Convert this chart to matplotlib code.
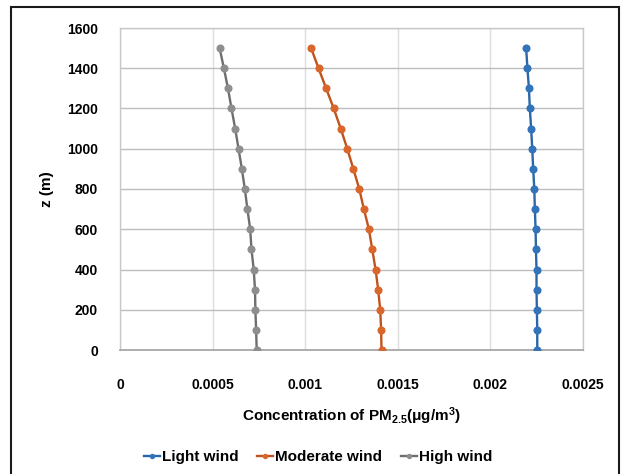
import matplotlib
matplotlib.use("Agg")
import matplotlib.pyplot as plt
from matplotlib.patches import Rectangle

plt.rcParams['font.family'] = ['Liberation Sans', 'DejaVu Sans']
plt.rcParams['font.weight'] = 'bold'
plt.rcParams['mathtext.fontset'] = 'custom'
plt.rcParams['mathtext.rm'] = 'Liberation Sans:bold'
plt.rcParams['mathtext.bf'] = 'Liberation Sans:bold'
plt.rcParams['mathtext.it'] = 'Liberation Sans:bold'
plt.rcParams['mathtext.default'] = 'bf'

# === data ===
z = [0, 100, 200, 300, 400, 500, 600, 700, 800, 900, 1000, 1100, 1200, 1300, 1400, 1500]
light = [0.002253, 0.002253, 0.002251, 0.002249, 0.002249, 0.002246, 0.002244, 0.002240,
         0.002237, 0.002231, 0.002226, 0.002220, 0.002213, 0.002208, 0.002200, 0.002193]
moderate = [0.001412, 0.001410, 0.001405, 0.001394, 0.001380, 0.001362, 0.001344, 0.001317,
            0.001292, 0.001260, 0.001227, 0.001192, 0.001154, 0.001113, 0.001072, 0.001032]
high = [0.000738, 0.000735, 0.000731, 0.000729, 0.000722, 0.000710, 0.000703, 0.000688,
        0.000674, 0.000658, 0.000640, 0.000622, 0.000602, 0.000583, 0.000561, 0.000538]
series_names = ['Light wind', 'Moderate wind', 'High wind']
line_colors = ['#2A66A8', '#C0531C', '#6E6E6E']
marker_colors = ['#3373BA', '#D9662A', '#8E8E8E']
x_ticks = [0, 0.0005, 0.001, 0.0015, 0.002, 0.0025]
x_tick_labels = ['0', '0.0005', '0.001', '0.0015', '0.002', '0.0025']
y_ticks = [0, 200, 400, 600, 800, 1000, 1200, 1400, 1600]

fig = plt.figure(figsize=(6.21, 4.74), dpi=100)
ax = fig.add_axes([120 / 621, 1 - 350 / 474, (583 - 120) / 621, (350 - 28) / 474])

for vals, name, lc, mc in zip([light, moderate, high], series_names, line_colors, marker_colors):
    ax.plot(vals, z, color=lc, lw=1.7, marker='o', markersize=4.8,
            markerfacecolor=mc, markeredgecolor=mc, label=name, zorder=3)

ax.set_xlim(0, 0.0025)
ax.set_ylim(0, 1600)
ax.set_xticks(x_ticks)
ax.set_xticklabels(x_tick_labels)
ax.set_yticks(y_ticks)
ax.tick_params(length=0, labelsize=10)
ax.tick_params(axis='x', pad=20)
ax.tick_params(axis='y', pad=16)

ax.grid(axis='y', color='#BDBDBD', lw=1.0)
ax.grid(axis='x', color='#DDDDDD', lw=1.0)
ax.set_axisbelow(True)
for side in ['top', 'right', 'left']:
    ax.spines[side].set_color('#C8C8C8')
    ax.spines[side].set_linewidth(1.0)
ax.spines['bottom'].set_color('#A8A8A8')
ax.spines['bottom'].set_linewidth(1.3)

ax.set_xlabel(r'Concentration of PM$_{2.5}$(μg/m$^{3}$)', fontsize=11, fontweight='bold', labelpad=10)
ax.set_ylabel('z (m)', fontsize=11, fontweight='bold', labelpad=9)

fig.legend(loc='center', bbox_to_anchor=(0.512, 1 - 457 / 474), ncol=3, frameon=False,
           fontsize=11, handlelength=1.05, handletextpad=0.15, columnspacing=1.2,
           markerscale=0.6)

# chart area border
fig.patches.append(Rectangle((11 / 621, -0.01), (619 - 11) / 621, 1 - 7 / 474 + 0.01,
                             transform=fig.transFigure, fill=False, edgecolor='#1A1A1A', lw=1.5))

fig.savefig('out.png', dpi=100)
